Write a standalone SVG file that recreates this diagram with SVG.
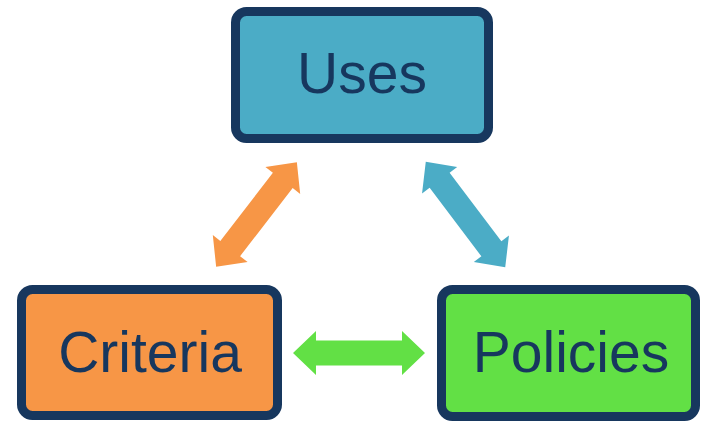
<svg xmlns="http://www.w3.org/2000/svg" width="705" height="421" viewBox="0 0 705 421">
  <style>
    .box { stroke: #17375E; stroke-width: 9; }
    .lbl { font-family: "Liberation Sans", Arial, sans-serif; font-size: 57px; fill: #17375E; text-anchor: middle; }
  </style>
  <defs>
    <path id="dblarrow" d="M-66,0 L-43,-22 L-43,-12.5 L43,-12.5 L43,-22 L66,0 L43,22 L43,12.5 L-43,12.5 L-43,22 Z"/>
  </defs>
  <rect width="705" height="421" fill="#FFFFFF"/>
  <g id="connectors">
    <use href="#dblarrow" fill="#F79646" transform="translate(256.5,214.5) rotate(-52.3)"/>
    <use href="#dblarrow" fill="#4BACC6" transform="translate(465.5,214.5) rotate(53)"/>
    <use href="#dblarrow" fill="#62E045" transform="translate(359,353)"/>
  </g>
  <g id="uses">
    <rect class="box" x="235.5" y="11.5" width="253" height="127" rx="11" fill="#4BACC6"/>
    <text class="lbl" x="362" y="93">Uses</text>
  </g>
  <g id="criteria">
    <rect class="box" x="21.5" y="289.5" width="256" height="126" rx="11" fill="#F79646"/>
    <text class="lbl" x="150" y="372">Criteria</text>
  </g>
  <g id="policies">
    <rect class="box" x="441.5" y="289.5" width="254" height="127" rx="11" fill="#62E045"/>
    <text class="lbl" x="571" y="372">Policies</text>
  </g>
</svg>
